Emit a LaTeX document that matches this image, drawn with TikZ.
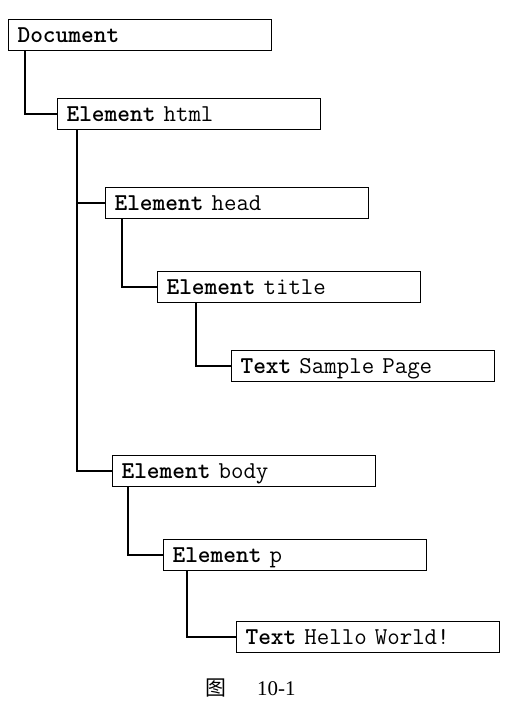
\documentclass[tikz,border=0pt]{standalone}
\usepackage{fontspec}
\setmainfont{Liberation Serif}
\newfontfamily\cjk{Noto Sans CJK SC}
\begin{document}
\begin{tikzpicture}[x=1bp,y=-1bp,
  box/.style={draw, line width=1.1bp, anchor=north west, rectangle,
    minimum height=31bp, inner xsep=9bp, inner ysep=0bp, text width=245bp,
    align=left, text height=16bp, text depth=1bp,
    font=\ttfamily\fontsize{24.3}{26}\selectfont},
  link/.style={line width=2bp}]
\useasboundingbox (0,0) rectangle (523,714);
\node[box] (doc) at (8,19) {\textbf{Document}};
\node[box] (html) at (57,98) {\textbf{Element} html};
\node[box] (head) at (105,187) {\textbf{Element} head};
\node[box] (title) at (157,271) {\textbf{Element} title};
\node[box] (t1) at (231,350) {\textbf{Text} Sample Page};
\node[box] (body) at (112,455) {\textbf{Element} body};
\node[box] (p) at (163,539) {\textbf{Element} p};
\node[box] (t2) at (236,621) {\textbf{Text} Hello World!};
\draw[link] ([xshift=17bp]doc.south west) |- (html.west);
\draw[link] ([xshift=20bp]html.south west) |- (body.west);
\draw[link] ([xshift=20bp]html.south west |- head.west) -- (head.west);
\draw[link] ([xshift=17bp]head.south west) |- (title.west);
\draw[link] ([xshift=39bp]title.south west) |- (t1.west);
\draw[link] ([xshift=16bp]body.south west) |- (p.west);
\draw[link] ([xshift=24bp]p.south west) |- (t2.west);
\node[anchor=base west, inner sep=0pt, font=\fontsize{21}{24}\selectfont] (cap) at (205,695) {{\cjk 图}\hspace{31bp}10-1};
\end{tikzpicture}
\end{document}
